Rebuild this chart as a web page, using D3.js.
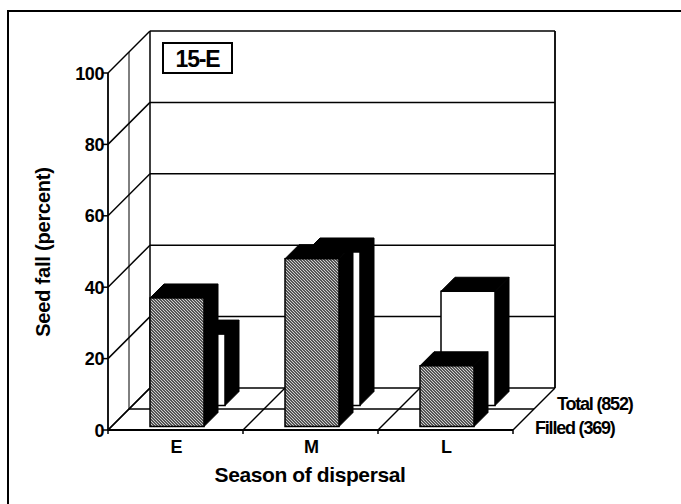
<!DOCTYPE html>
<html><head><meta charset="utf-8">
<script src="https://cdn.jsdelivr.net/npm/d3@7"></script>
<style>
html,body{margin:0;padding:0;background:#fff;}
text{font-family:"Liberation Sans",Arial,sans-serif;fill:#000;}
</style></head>
<body><svg id="chart" width="681" height="504"></svg>
<script>
const categories = ["E", "M", "L"];
const seriesNames = ["Filled (369)", "Total (852)"];
const filledValues = [36, 47, 17];
const totalValues = [20, 43, 32];
const yTicks = [0, 20, 40, 60, 80, 100];
const panelLabel = "15-E";
const xTitle = "Season of dispersal";
const yTitle = "Seed fall (percent)";

const svg = d3.select("#chart");
const X0 = 108, X1 = 513, Y0 = 430, YT = 73, D = 42;

const y = d3.scaleLinear().domain([0, 100]).range([Y0, YT]);
const x = d3.scaleBand().domain(categories).range([X0, X1]).padding(0);
const depth = d3.scaleBand().domain(seriesNames).range([0, D]).padding(0);
const barW = x.bandwidth() * 0.4;
const barD = 14;

// pattern
const defs = svg.append("defs");
const pat = defs.append("pattern").attr("id", "hatch").attr("patternUnits", "userSpaceOnUse")
  .attr("width", 3).attr("height", 3);
pat.append("rect").attr("width", 3).attr("height", 3).attr("fill", "#555");
pat.append("path").attr("d", "M0,0 L3,3 M-1,2 L1,4 M2,-1 L4,1").attr("stroke", "#dcdcdc").attr("stroke-width", 0.9);

// outer frame
svg.append("path").attr("d", "M8,504 L8,11 L681,11").attr("fill", "none").attr("stroke", "#000").attr("stroke-width", 2);

const g = svg.append("g");
const line = (x1, y1, x2, y2, w) => g.append("line").attr("x1", x1).attr("y1", y1).attr("x2", x2).attr("y2", y2)
  .attr("stroke", "#000").attr("stroke-width", w || 1.4);

// back wall gridlines
yTicks.forEach(t => {
  if (t > 0) line(X0 + D, y(t) - D, X1 + D, y(t) - D, 1.5);
  line(X0, y(t), X0 + D, y(t) - D, 1.5);
});
line(X0 + D, y(100) - D, X0 + D, Y0 - D, 1.5);
line(X1 + D, y(100) - D, X1 + D, Y0 - D, 1.8);
const dm = depth.step();
line(X0 + dm, y(100) - dm, X0 + dm, Y0 - dm, 1);
// floor
line(X0 + D, Y0 - D, X1 + D, Y0 - D, 1.5);
line(X0 + dm, Y0 - dm, X1 + dm, Y0 - dm, 1.5);
const bounds = [X0].concat(categories.map(c => x(c) + x.bandwidth()));
bounds.forEach(b => line(b, Y0, b + D, Y0 - D, 1.4));

// front axes
line(X0, Y0, X1, Y0, 1.8);
line(X0, YT, X0, Y0, 1.8);
yTicks.forEach(t => {
  line(X0 - 5, y(t), X0, y(t), 1.5);
  g.append("text").attr("x", X0 - 4).attr("y", y(t) + 6.5).attr("text-anchor", "end")
    .attr("font-size", 18).attr("font-weight", "bold").attr("letter-spacing", -0.4).text(t);
});
bounds.forEach(b => line(b, Y0, b, Y0 + 4, 1.5));

// bars
function drawBar(cat, val, ser, front) {
  const d0 = depth(ser) + (depth.bandwidth() - barD) / 2;
  const xl = x(cat) + (x.bandwidth() - barW) / 2 - 2 + d0;
  const xr = xl + barW;
  const yt = y(val) - d0, yb = y(0) - d0;
  const bg = g.append("g");
  bg.append("path").attr("d", `M${xl},${yt} L${xl + barD},${yt - barD} L${xr + barD},${yt - barD} L${xr},${yt}Z`)
    .attr("fill", "#000").attr("stroke", "#000").attr("stroke-width", 1);
  bg.append("path").attr("d", `M${xr},${yt} L${xr + barD},${yt - barD} L${xr + barD},${yb - barD} L${xr},${yb}Z`)
    .attr("fill", "#000").attr("stroke", "#000").attr("stroke-width", 1);
  bg.append("rect").attr("x", xl).attr("y", yt).attr("width", barW).attr("height", yb - yt)
    .attr("fill", front ? "url(#hatch)" : "#fff").attr("stroke", "#000").attr("stroke-width", 1.5);
}
categories.forEach((c, i) => drawBar(c, totalValues[i], seriesNames[1], false));
categories.forEach((c, i) => drawBar(c, filledValues[i], seriesNames[0], true));

// category labels
categories.forEach(c => {
  g.append("text").attr("x", x(c) + x.bandwidth() / 2 + 1).attr("y", Y0 + 23).attr("text-anchor", "middle")
    .attr("font-size", 18).attr("font-weight", "bold").text(c);
});

// series labels
g.append("text").attr("x", X1 + D + 2).attr("y", Y0 - D + 22).attr("font-size", 18).attr("font-weight", "bold")
  .attr("letter-spacing", -1.2).text(seriesNames[1]);
g.append("text").attr("x", X1 + dm + 1).attr("y", Y0 - dm + 25).attr("font-size", 18).attr("font-weight", "bold")
  .attr("letter-spacing", -1.2).text(seriesNames[0]);

// axis titles
g.append("text").attr("x", 310).attr("y", 482).attr("text-anchor", "middle").attr("font-size", 21)
  .attr("font-weight", "bold").attr("letter-spacing", -0.4).text(xTitle);
g.append("text").attr("transform", "translate(50,252) rotate(-90)").attr("text-anchor", "middle")
  .attr("font-size", 20).attr("font-weight", "bold").attr("letter-spacing", -0.2).text(yTitle);

// panel label box
g.append("rect").attr("x", 163).attr("y", 43).attr("width", 69).attr("height", 30)
  .attr("fill", "#fff").attr("stroke", "#000").attr("stroke-width", 2);
g.append("text").attr("x", 197.5).attr("y", 66.5).attr("text-anchor", "middle").attr("font-size", 23)
  .attr("font-weight", "bold").attr("letter-spacing", -1.2).text(panelLabel);
</script></body></html>
